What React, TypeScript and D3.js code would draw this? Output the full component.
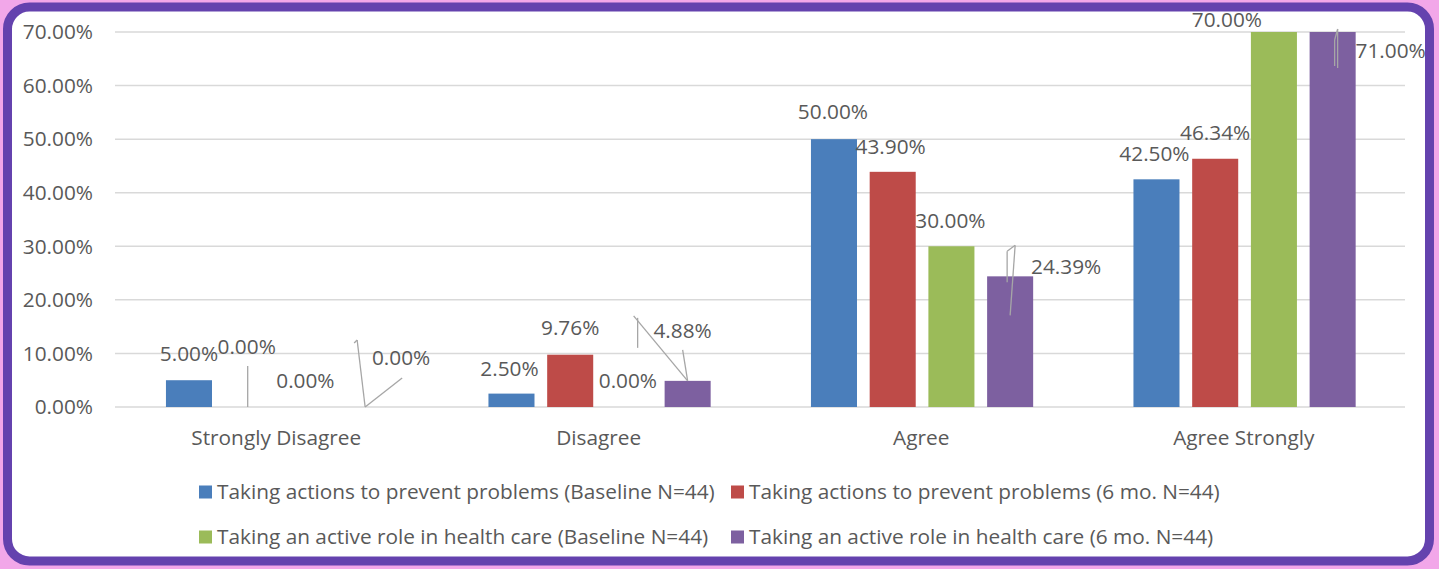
import React from "react";
import * as d3 from "d3";

// Survey responses (share of respondents)
const categories = ["Strongly Disagree", "Disagree", "Agree", "Agree Strongly"];
const seriesNames = [
  "Taking actions to prevent problems (Baseline N=44)",
  "Taking actions to prevent problems (6 mo. N=44)",
  "Taking an active role in health care (Baseline N=44)",
  "Taking an active role in health care (6 mo. N=44)",
];
const preventBaseline = [0.05, 0.025, 0.5, 0.425];
const prevent6mo = [0.0, 0.0976, 0.439, 0.4634];
const activeBaseline = [0.0, 0.0, 0.3, 0.7];
const active6mo = [0.0, 0.0488, 0.2439, 0.71];
const yTicks = [0, 0.1, 0.2, 0.3, 0.4, 0.5, 0.6, 0.7];

const seriesValues = [preventBaseline, prevent6mo, activeBaseline, active6mo];
const colors = ["#4a7ebb", "#be4b48", "#9bbb59", "#7d60a0"];

// Label placement relative to the bar top centre, per [series][category]
const labelOffsets: [number, number][][] = [
  [[0, -26], [-2, -25], [-1, -27], [-2, -26]],
  [[-1, -60], [0, -27], [-2, -25], [0, -26]],
  [[-1, -26], [-1, -26], [-1, -26], [-47, -12]],
  [[36, -49], [-5, -50], [56, -10], [58, 19]],
];

// Leader lines: [series, category, x1, y1, x2, y2] relative to the bar top centre
const leaders: [number, number, number, number, number, number][] = [
  [1, 0, 0, 0, 0, -41],
  [3, 0, 0, 0, 37, -29],
  [3, 0, 0, 0, -8, -67],
  [3, 0, -8, -67, -11, -64],
  [3, 1, 0, 0, -5, -31],
  [3, 1, 0, 0, -54, -65],
  [3, 1, -50, -63, -50, -33],
  [3, 2, 5, -31, 0, 39],
  [3, 2, 5, -31, -3, -25],
  [3, 2, -3, -25, -3, 6],
  [3, 3, 5, -3, 5, 36],
  [3, 3, 5, -3, 2, 8],
  [3, 3, 2, 8, 2, 34],
];

const W = 1439;
const H = 569;
const FONT = "'Open Sans', sans-serif";
const FS = 20.8;
const TEXT = "#595959";

const pct = d3.format(".2%");

export default function App() {
  const x0 = d3.scaleBand<string>().domain(categories).range([115, 1405]);
  const bw = x0.bandwidth();
  const x1 = d3
    .scaleBand<number>()
    .domain(d3.range(seriesNames.length))
    .range([bw * 0.158, bw * 0.847])
    .paddingInner(0.216);
  const y = d3.scaleLinear().domain([0, 0.7]).range([407, 32]).clamp(true);

  const barCx = (s: number, c: number) =>
    (x0(categories[c]) ?? 0) + (x1(s) ?? 0) + x1.bandwidth() / 2;

  return (
    <svg
      width={W}
      height={H}
      style={{ position: "absolute", left: 0, top: 0, display: "block" }}
      fontFamily={FONT}
    >
      <rect x={0} y={0} width={W} height={H} fill="#f2a7e9" />
      <rect
        x={7.5}
        y={7}
        width={1422}
        height={554}
        rx={22}
        ry={22}
        fill="#ffffff"
        stroke="#6442ae"
        strokeWidth={9}
      />

      {/* grid and value axis */}
      {yTicks.map((t) => (
        <g key={t}>
          <line x1={115} x2={1405} y1={y(t)} y2={y(t)} stroke="#d9d9d9" strokeWidth={1.5} />
          <text
            x={93}
            y={y(t)}
            dy="0.35em"
            textAnchor="end"
            fontSize={FS}
            fill={TEXT}
          >
            {pct(t)}
          </text>
        </g>
      ))}

      {/* bars */}
      {seriesValues.map((vals, s) =>
        vals.map((v, c) => (
          <rect
            key={`b${s}-${c}`}
            x={(x0(categories[c]) ?? 0) + (x1(s) ?? 0)}
            y={y(v)}
            width={x1.bandwidth()}
            height={y(0) - y(v)}
            fill={colors[s]}
          />
        ))
      )}

      {/* leader lines */}
      {leaders.map(([s, c, ax, ay, bx, by], i) => {
        const cx = barCx(s, c);
        const top = y(seriesValues[s][c]);
        return (
          <line
            key={`l${i}`}
            x1={cx + ax}
            y1={top + ay}
            x2={cx + bx}
            y2={top + by}
            stroke="#a6a6a6"
            strokeWidth={1.3}
          />
        );
      })}

      {/* data labels */}
      {seriesValues.map((vals, s) =>
        vals.map((v, c) => {
          const [dx, dy] = labelOffsets[s][c];
          return (
            <text
              key={`t${s}-${c}`}
              x={barCx(s, c) + dx}
              y={y(v) + dy}
              dy="0.35em"
              textAnchor="middle"
              fontSize={FS}
              fill={TEXT}
            >
              {pct(v)}
            </text>
          );
        })
      )}

      {/* category axis */}
      {categories.map((c) => (
        <text
          key={c}
          x={(x0(c) ?? 0) + bw / 2}
          y={438}
          dy="0.35em"
          textAnchor="middle"
          fontSize={FS}
          fill={TEXT}
        >
          {c}
        </text>
      ))}

      {/* legend */}
      {seriesNames.map((name, i) => {
        const col = i % 2;
        const row = Math.floor(i / 2);
        const lx = col === 0 ? 199 : 731;
        const ly = row === 0 ? 492 : 537;
        return (
          <g key={name}>
            <rect x={lx} y={ly - 6.5} width={13} height={13} fill={colors[i]} />
            <text x={lx + 18} y={ly} dy="0.35em" fontSize={FS} fill={TEXT}>
              {name}
            </text>
          </g>
        );
      })}
    </svg>
  );
}
